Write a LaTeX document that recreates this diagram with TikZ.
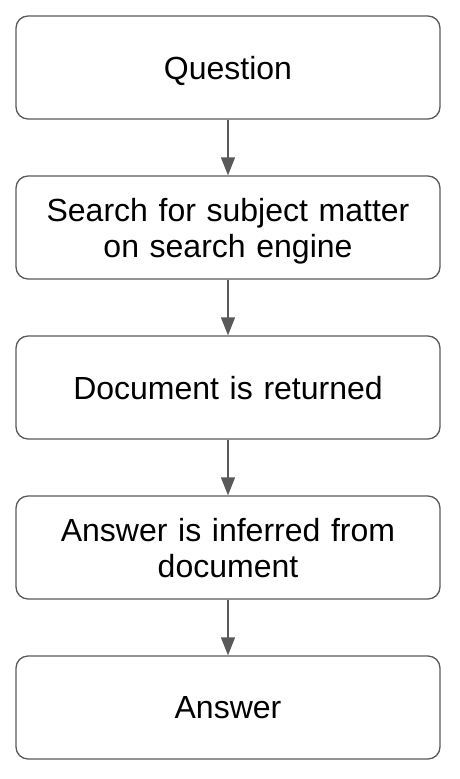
\documentclass[tikz,border=0pt]{standalone}
\usepackage{fontspec}
\setmainfont{Liberation Sans}
\usetikzlibrary{arrows.meta}
\definecolor{edgegray}{HTML}{595959}
\begin{document}
\begin{tikzpicture}[x=1pt, y=-1pt,
	box/.style={draw=edgegray, line width=1.3pt, rounded corners=12pt, minimum width=424pt, minimum height=103pt, align=center, text width=410pt, font=\fontsize{32}{36}\selectfont, inner sep=0pt, text depth=0pt},
	twoline/.style={text depth=36pt},
	link/.style={-{Triangle[length=18pt, width=14pt]}, draw=edgegray, fill=edgegray, line width=1.3pt}]
			\useasboundingbox (0, 0) rectangle (460, 779);
			\node[box] (q) at (228, 67.5) {Question};
			\node[box, twoline] (s) at (228, 227.5) {Search for subject matter\\on search engine};
			\node[box] (d) at (228, 387.5) {Document is returned};
			\node[box, twoline] (i) at (228, 547.5) {Answer is inferred from\\document};
			\node[box] (a) at (228, 707.5) {Answer};

			\draw[link] (q) -- (s);
			\draw[link] (s) -- (d);
			\draw[link] (d) -- (i);
			\draw[link] (i) -- (a);
		\end{tikzpicture}
\end{document}
